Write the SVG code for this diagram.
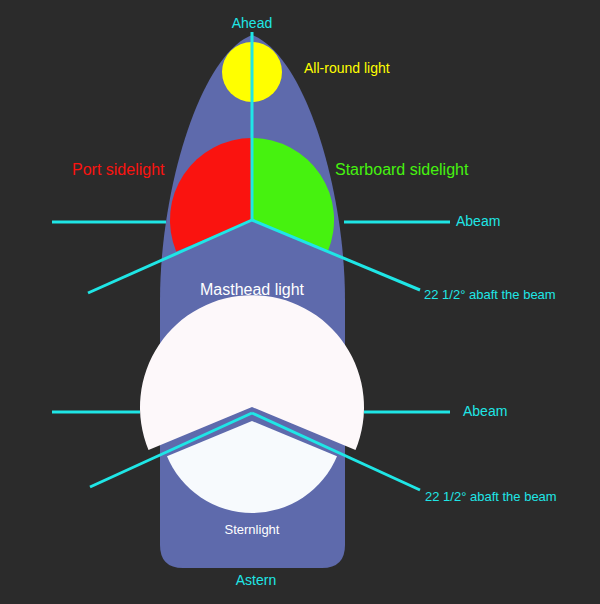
<svg xmlns="http://www.w3.org/2000/svg" width="600" height="604" viewBox="0 0 600 604">
<style>
.c{stroke:#1fe6e6;stroke-width:3;fill:none}
text{font-family:"Liberation Sans",Arial,sans-serif}
</style>
<rect width="600" height="604" fill="#2b2b2b"/>
<g id="hull"><path d="M252,35 C200,55 160,190 160,300 L160,545 Q160,568 183,568 L322,568 Q345,568 345,545 L345,300 C345,190 305,55 252,35 Z" fill="#5e6aac"/></g>
<g id="allround"><circle cx="252" cy="72" r="30" fill="#ffff00"/></g>
<g id="port"><path d="M252,220 L252,138 A82,82 0 0 0 176.2,251.4 Z" fill="#fa130f"/></g>
<g id="starboard"><path d="M252,220 L252,138 A82,82 0 0 1 327.8,251.4 Z" fill="#46f20f"/></g>
<g id="masthead"><path d="M252,407 L148.5,450 A112,112 0 1 1 355.5,450 Z" fill="#fdf8fa"/></g>
<g id="sternlight"><path d="M252,421 L167,456.2 A92,92 0 0 0 337,456.2 Z" fill="#f7fafd"/></g>
<g id="connectors">
<line class="c" x1="252" y1="32" x2="252" y2="220"/>
<line class="c" x1="252" y1="220" x2="88" y2="293"/>
<line class="c" x1="252" y1="220" x2="420" y2="290"/>
<line class="c" x1="52" y1="222" x2="166" y2="222"/>
<line class="c" x1="344" y1="222" x2="450" y2="222"/>
<line class="c" x1="52" y1="412" x2="140" y2="412"/>
<line class="c" x1="364" y1="412" x2="450" y2="412"/>
<line class="c" x1="252" y1="413" x2="90" y2="487"/>
<line class="c" x1="252" y1="413" x2="420" y2="490"/>
</g>
<g id="labels" font-size="14">
<text x="252" y="28" fill="#1fe6e6" text-anchor="middle">Ahead</text>
<text x="304" y="73" fill="#ffff00">All-round light</text>
<text x="72" y="175" fill="#fa130f" font-size="16">Port sidelight</text>
<text x="335" y="175" fill="#46f20f" font-size="16">Starboard sidelight</text>
<text x="456" y="226" fill="#1fe6e6">Abeam</text>
<text x="252" y="295" fill="#ffffff" font-size="16" text-anchor="middle">Masthead light</text>
<text x="424" y="299" fill="#1fe6e6" font-size="13">22 1/2° abaft the beam</text>
<text x="463" y="416" fill="#1fe6e6">Abeam</text>
<text x="425" y="501" fill="#1fe6e6" font-size="13">22 1/2° abaft the beam</text>
<text x="252" y="534" fill="#ffffff" font-size="13" text-anchor="middle">Sternlight</text>
<text x="256" y="585" fill="#1fe6e6" text-anchor="middle">Astern</text>
</g>
</svg>
